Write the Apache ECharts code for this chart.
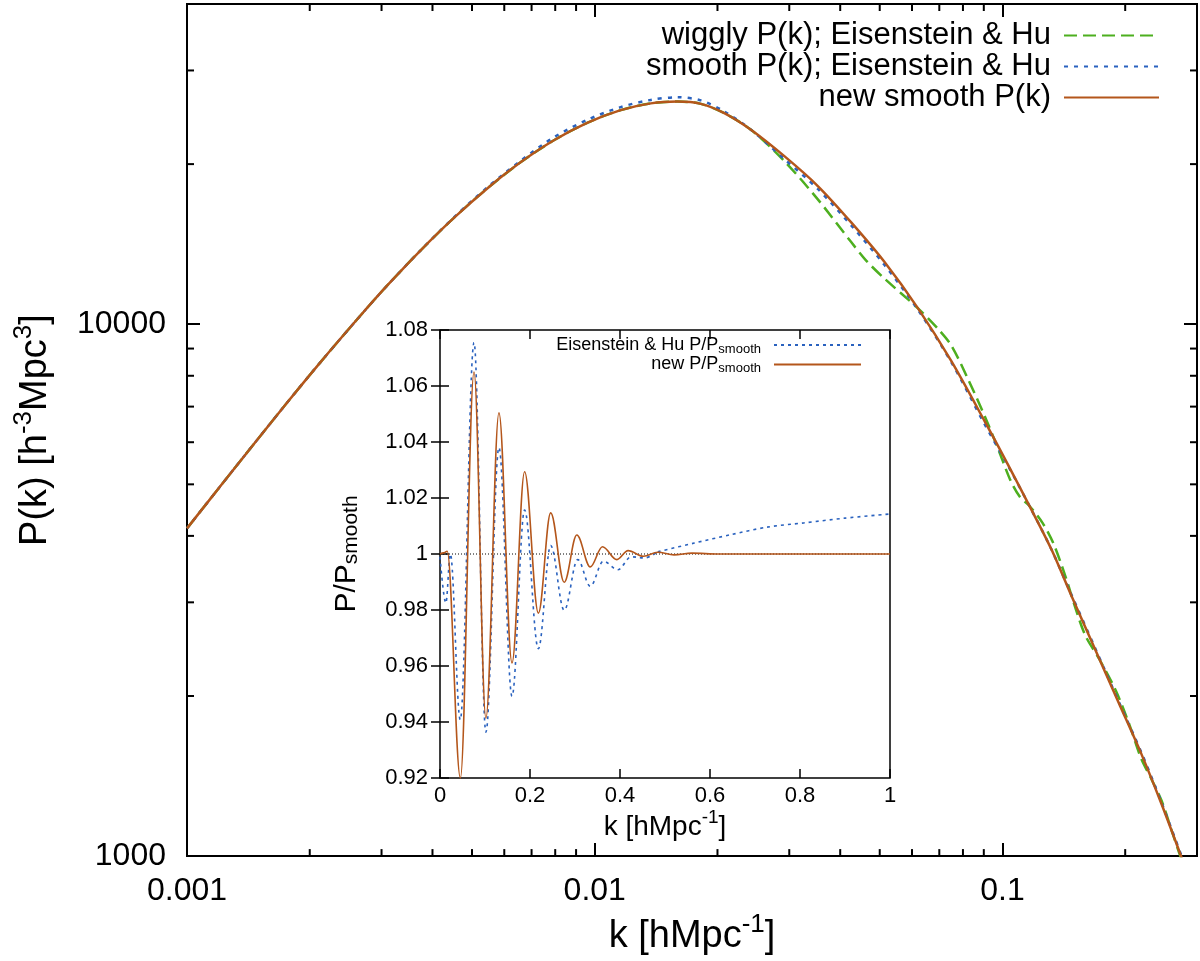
<!DOCTYPE html>
<html><head><meta charset="utf-8">
<script src="https://cdn.jsdelivr.net/npm/echarts@6/dist/echarts.min.js"></script>
<style>html,body{margin:0;padding:0;background:#fff}#c{width:1200px;height:961px}</style>
</head><body><div id="c"></div>
<script>
// ---------------- data ----------------
// main panel: k [h/Mpc] and P(k) [h^-3 Mpc^3]
const kNew = [0.001, 0.001208, 0.001459, 0.001761, 0.002126, 0.002667, 0.003099, 0.003742, 0.004521, 0.005459, 0.00659, 0.007961, 0.00961, 0.01158, 0.01373, 0.01596, 0.01821, 0.02078, 0.02416, 0.02918, 0.03525, 0.04256, 0.05138, 0.06207, 0.07494, 0.09048, 0.1033, 0.1179, 0.132, 0.1477, 0.1686, 0.1924, 0.2196, 0.2458, 0.2742, 0.3];
const pNewSmooth = [4132, 4963, 5955, 7125, 8488, 10394, 11827, 13773, 15862, 18020, 20175, 22199, 23936, 25266, 26016, 26215, 25960, 24940, 23210, 20700, 18190, 15540, 13090, 10710, 8520, 6566, 5434, 4473, 3766, 3083, 2452, 1949, 1550, 1250, 1000, 830];
const pEHSmooth = [4132, 4963, 5955, 7125, 8488, 10394, 11827, 13773, 15896, 18097, 20306, 22488, 24247, 25594, 26409, 26716, 26352, 25122, 23210, 20440, 17960, 15340, 12920, 10640, 8480, 6481, 5411, 4473, 3766, 3098, 2465, 1960, 1560, 1258, 1006, 836];
const kWiggly = [0.001, 0.001208, 0.001459, 0.001761, 0.002126, 0.002667, 0.003099, 0.003742, 0.004521, 0.005459, 0.00659, 0.007961, 0.00961, 0.01158, 0.01373, 0.01596, 0.01821, 0.02078, 0.02416, 0.02918, 0.03525, 0.04256, 0.0462, 0.05138, 0.06207, 0.0695, 0.07494, 0.0826, 0.09048, 0.0975, 0.1045, 0.1104, 0.1162, 0.1255, 0.1333, 0.1425, 0.1525, 0.16, 0.1733, 0.19, 0.205, 0.2186, 0.232, 0.2458, 0.261, 0.276, 0.3];
const pWiggly = [4132, 4963, 5955, 7125, 8488, 10394, 11827, 13773, 15862, 18020, 20175, 22199, 23936, 25266, 26016, 26215, 25960, 24940, 23210, 20260, 17170, 14270, 13200, 12180, 10710, 9800, 9117, 7845, 6714, 5841, 5097, 4732, 4563, 4228, 3873, 3368, 2859, 2590, 2337, 2041, 1763, 1529, 1395, 1269, 1107, 977, 833];

// inset: k [h/Mpc] and P/P_smooth
const kRatioNew = [0, 0.008, 0.016, 0.0453, 0.0756, 0.102, 0.131, 0.160, 0.188, 0.2186, 0.246, 0.276, 0.304, 0.334, 0.361, 0.393, 0.418, 0.452, 0.484, 0.52, 0.56, 0.62, 0.8, 1.0];
const rRatioNew = [1.0, 1.0004, 1.001, 0.92, 1.065, 0.9414, 1.0504, 0.9611, 1.0294, 0.9789, 1.0147, 0.9899, 1.0068, 0.9954, 1.0026, 0.998, 1.0012, 0.9992, 1.0006, 0.9997, 1.0003, 1.0, 1.0, 1.0];
const kRatioEH = [0, 0.013, 0.023, 0.045, 0.0756, 0.102, 0.131, 0.160, 0.188, 0.2186, 0.246, 0.276, 0.306, 0.334, 0.363, 0.395, 0.425, 0.455, 0.484, 0.565, 0.646, 0.727, 0.808, 0.9, 1.0];
const rRatioEH = [0.999, 0.9825, 1.0, 0.9408, 1.0755, 0.9364, 1.038, 0.9492, 1.0157, 0.9662, 1.003, 0.9799, 0.998, 0.9885, 0.9974, 0.9944, 0.999, 0.9986, 1.0008, 1.0039, 1.0069, 1.0096, 1.0111, 1.0128, 1.0143];
const refLineK = [0, 1];
const refLineR = [1, 1];

// ticks
const xTickValues = [0.001, 0.01, 0.1];
const xTickLabels = ['0.001', '0.01', '0.1'];
const yTickValues = [1000, 10000];
const yTickLabels = ['1000', '10000'];
const xMinorTicks = [0.002, 0.003, 0.004, 0.005, 0.006, 0.007, 0.008, 0.009, 0.02, 0.03, 0.04, 0.05, 0.06, 0.07, 0.08, 0.09, 0.2];
const yMinorTicks = [2000, 3000, 4000, 5000, 6000, 7000, 8000, 9000, 20000, 30000];

const X_MIN = 0.001, X_MAX = 0.3, Y_MIN = 1000, Y_MAX = 40000;

const NAME_W = 'wiggly P(k); Eisenstein & Hu';
const NAME_S = 'smooth P(k); Eisenstein & Hu';
const NAME_N = 'new smooth P(k)';
const NAME_EHR = 'EH ratio';
const NAME_NR = 'new ratio';

// ---------------- styling ----------------
const FONT = '"Liberation Sans", Arial, Helvetica, sans-serif';
const GREEN = '#4daf1f', BLUE = '#2a62bf', BROWN = '#b4561b';

const zip = (a, b) => a.map((v, i) => [v, b[i]]);
const tickFmt = (vals, labels) => v => {
  for (let i = 0; i < vals.length; i++) {
    if (Math.abs(v - vals[i]) <= vals[i] * 1e-6) return labels[i];
  }
  return '';
};

const mainTick = { inside: true, length: 13, lineStyle: { color: '#000', width: 2 } };
const insetTick = { inside: true, length: 9, lineStyle: { color: '#000', width: 1.5 } };
const txt = (size) => ({ fontSize: size, color: '#000', fontFamily: FONT });

const splitAt = kRatioEH.indexOf(0.484);
const ehOsc = zip(kRatioEH, rRatioEH).slice(0, splitAt + 1);
const ehTail = zip(kRatioEH, rRatioEH).slice(splitAt);

function minorX(len) {
  return {
    type: 'custom', xAxisIndex: 0, yAxisIndex: 0, clip: false, silent: true, z: 5,
    data: xMinorTicks.map(v => [v, Y_MIN]),
    renderItem(params, api) {
      const v = api.value(0);
      const b = api.coord([v, Y_MIN]), t = api.coord([v, Y_MAX]);
      const st = { stroke: '#000', lineWidth: 2 };
      return { type: 'group', children: [
        { type: 'line', shape: { x1: b[0], y1: b[1], x2: b[0], y2: b[1] - len }, style: st },
        { type: 'line', shape: { x1: t[0], y1: t[1], x2: t[0], y2: t[1] + len }, style: st }
      ] };
    }
  };
}
function minorY(len) {
  return {
    type: 'custom', xAxisIndex: 0, yAxisIndex: 0, clip: false, silent: true, z: 5,
    data: yMinorTicks.map(v => [X_MIN, v]),
    renderItem(params, api) {
      const v = api.value(1);
      const l = api.coord([X_MIN, v]), r = api.coord([X_MAX, v]);
      const st = { stroke: '#000', lineWidth: 2 };
      return { type: 'group', children: [
        { type: 'line', shape: { x1: l[0], y1: l[1], x2: l[0] + len, y2: l[1] }, style: st },
        { type: 'line', shape: { x1: r[0], y1: r[1], x2: r[0] - len, y2: r[1] }, style: st }
      ] };
    }
  };
}

const option = {
  animation: false,
  backgroundColor: '#fff',
  grid: [
    { left: 187, top: 4, width: 1010, height: 858, show: true, borderColor: '#000', borderWidth: 2, containLabel: false },
    { left: 440, top: 330, width: 450, height: 448, show: true, borderColor: '#000', borderWidth: 1.5, containLabel: false }
  ],
  xAxis: [
    { type: 'log', gridIndex: 0, min: X_MIN, max: X_MAX, position: 'bottom',
      axisLine: { show: false }, splitLine: { show: false }, axisTick: mainTick,
      axisLabel: Object.assign({ formatter: tickFmt(xTickValues, xTickLabels), margin: 19 }, txt(32)),
      name: '{a|k [hMpc}{s|-1}{a|]}', nameLocation: 'middle', nameGap: 51,
      nameTextStyle: { rich: {
        a: Object.assign({ lineHeight: 50 }, txt(38)),
        s: Object.assign({ lineHeight: 2, verticalAlign: 'top' }, txt(26)) } } },
    { type: 'log', gridIndex: 0, min: X_MIN, max: X_MAX, position: 'top',
      axisLine: { show: false }, splitLine: { show: false }, axisTick: mainTick, axisLabel: { show: false } },
    { type: 'value', gridIndex: 1, min: 0, max: 1, interval: 0.2, position: 'bottom',
      axisLine: { show: false }, splitLine: { show: false }, axisTick: insetTick,
      axisLabel: Object.assign({ margin: 7 }, txt(22)),
      name: '{a|k [hMpc}{s|-1}{a|]}', nameLocation: 'middle', nameGap: 26,
      nameTextStyle: { rich: {
        a: Object.assign({ lineHeight: 38 }, txt(28)),
        s: Object.assign({ lineHeight: 2, verticalAlign: 'top' }, txt(19)) } } },
    { type: 'value', gridIndex: 1, min: 0, max: 1, interval: 0.2, position: 'top',
      axisLine: { show: false }, splitLine: { show: false }, axisTick: insetTick, axisLabel: { show: false } }
  ],
  yAxis: [
    { type: 'log', gridIndex: 0, min: Y_MIN, max: Y_MAX, position: 'left',
      axisLine: { show: false }, splitLine: { show: false }, axisTick: mainTick,
      axisLabel: Object.assign({ formatter: tickFmt(yTickValues, yTickLabels), margin: 21 }, txt(32)),
      name: '{a|P(k) [h}{s|-3}{a|Mpc}{s|3}{a|]}', nameLocation: 'middle', nameRotate: 90, nameGap: 126,
      nameTextStyle: { rich: {
        a: Object.assign({ lineHeight: 50 }, txt(38)),
        s: Object.assign({ lineHeight: 2, verticalAlign: 'top' }, txt(26)) } } },
    { type: 'log', gridIndex: 0, min: Y_MIN, max: Y_MAX, position: 'right',
      axisLine: { show: false }, splitLine: { show: false }, axisTick: mainTick, axisLabel: { show: false } },
    { type: 'value', gridIndex: 1, min: 0.92, max: 1.08, interval: 0.02, position: 'left',
      axisLine: { show: false }, splitLine: { show: false }, axisTick: insetTick,
      axisLabel: Object.assign({ margin: 12 }, txt(22)),
      name: '{a|P/P}{b|smooth}', nameLocation: 'middle', nameRotate: 90, nameGap: 78,
      nameTextStyle: { rich: {
        a: Object.assign({ lineHeight: 30 }, txt(30)),
        b: Object.assign({ lineHeight: 10, verticalAlign: 'bottom' }, txt(21)) } } },
    { type: 'value', gridIndex: 1, min: 0.92, max: 1.08, interval: 0.02, position: 'right',
      axisLine: { show: false }, splitLine: { show: false }, axisTick: insetTick, axisLabel: { show: false } }
  ],
  legend: [
    { data: [NAME_W, NAME_S, NAME_N], orient: 'vertical', right: 40, top: 20, align: 'right',
      padding: 0, itemGap: 0, itemWidth: 95, itemHeight: 14, selectedMode: false,
      itemStyle: { opacity: 0 },
      textStyle: Object.assign({ lineHeight: 31, padding: [0, 8, 0, 0] }, txt(31)) },
    { data: [NAME_EHR, NAME_NR], orient: 'vertical', right: 338, top: 336, align: 'right',
      padding: 0, itemGap: 0, itemWidth: 87, itemHeight: 10, selectedMode: false,
      itemStyle: { opacity: 0 },
      formatter: n => n === NAME_EHR ? '{a|Eisenstein & Hu P/P}{b|smooth}' : '{a|new P/P}{b|smooth}',
      textStyle: { padding: [0, 8, 0, 0], rich: {
        a: Object.assign({ lineHeight: 21 }, txt(18)),
        b: Object.assign({ lineHeight: 7.5, verticalAlign: 'bottom' }, txt(13)) } } }
  ],
  series: [
    { name: NAME_W, type: 'line', xAxisIndex: 0, yAxisIndex: 0, data: zip(kWiggly, pWiggly),
      symbol: 'none', showSymbol: false, smooth: 0.3, z: 2,
      itemStyle: { color: GREEN }, lineStyle: { color: GREEN, width: 2.5, type: [13, 6] } },
    { name: NAME_S, type: 'line', xAxisIndex: 0, yAxisIndex: 0, data: zip(kNew, pEHSmooth),
      symbol: 'none', showSymbol: false, smooth: 0.3, z: 3,
      itemStyle: { color: BLUE }, lineStyle: { color: BLUE, width: 2.5, type: [4, 6] } },
    { name: NAME_N, type: 'line', xAxisIndex: 0, yAxisIndex: 0, data: zip(kNew, pNewSmooth),
      symbol: 'none', showSymbol: false, smooth: 0.3, z: 4,
      itemStyle: { color: BROWN }, lineStyle: { color: BROWN, width: 2.5 } },
    { name: 'ref', type: 'line', xAxisIndex: 2, yAxisIndex: 2, data: zip(refLineK, refLineR),
      symbol: 'none', showSymbol: false, z: 2, silent: true,
      lineStyle: { color: '#000', width: 1, type: [1, 2] } },
    { name: NAME_EHR, type: 'line', xAxisIndex: 2, yAxisIndex: 2, data: ehOsc,
      symbol: 'none', showSymbol: false, smooth: 0.36, smoothMonotone: 'x', z: 3,
      itemStyle: { color: BLUE }, lineStyle: { color: BLUE, width: 1.6, type: [3, 4] } },
    { name: NAME_EHR, type: 'line', xAxisIndex: 2, yAxisIndex: 2, data: ehTail,
      symbol: 'none', showSymbol: false, smooth: 0.3, z: 3,
      itemStyle: { color: BLUE }, lineStyle: { color: BLUE, width: 1.6, type: [3, 4] } },
    { name: NAME_NR, type: 'line', xAxisIndex: 2, yAxisIndex: 2, data: zip(kRatioNew, rRatioNew),
      symbol: 'none', showSymbol: false, smooth: 0.36, smoothMonotone: 'x', z: 4,
      itemStyle: { color: BROWN }, lineStyle: { color: BROWN, width: 1.6 } },
    minorX(7),
    minorY(7)
  ]
};

const chart = echarts.init(document.getElementById('c'));
chart.setOption(option);
</script></body></html>
